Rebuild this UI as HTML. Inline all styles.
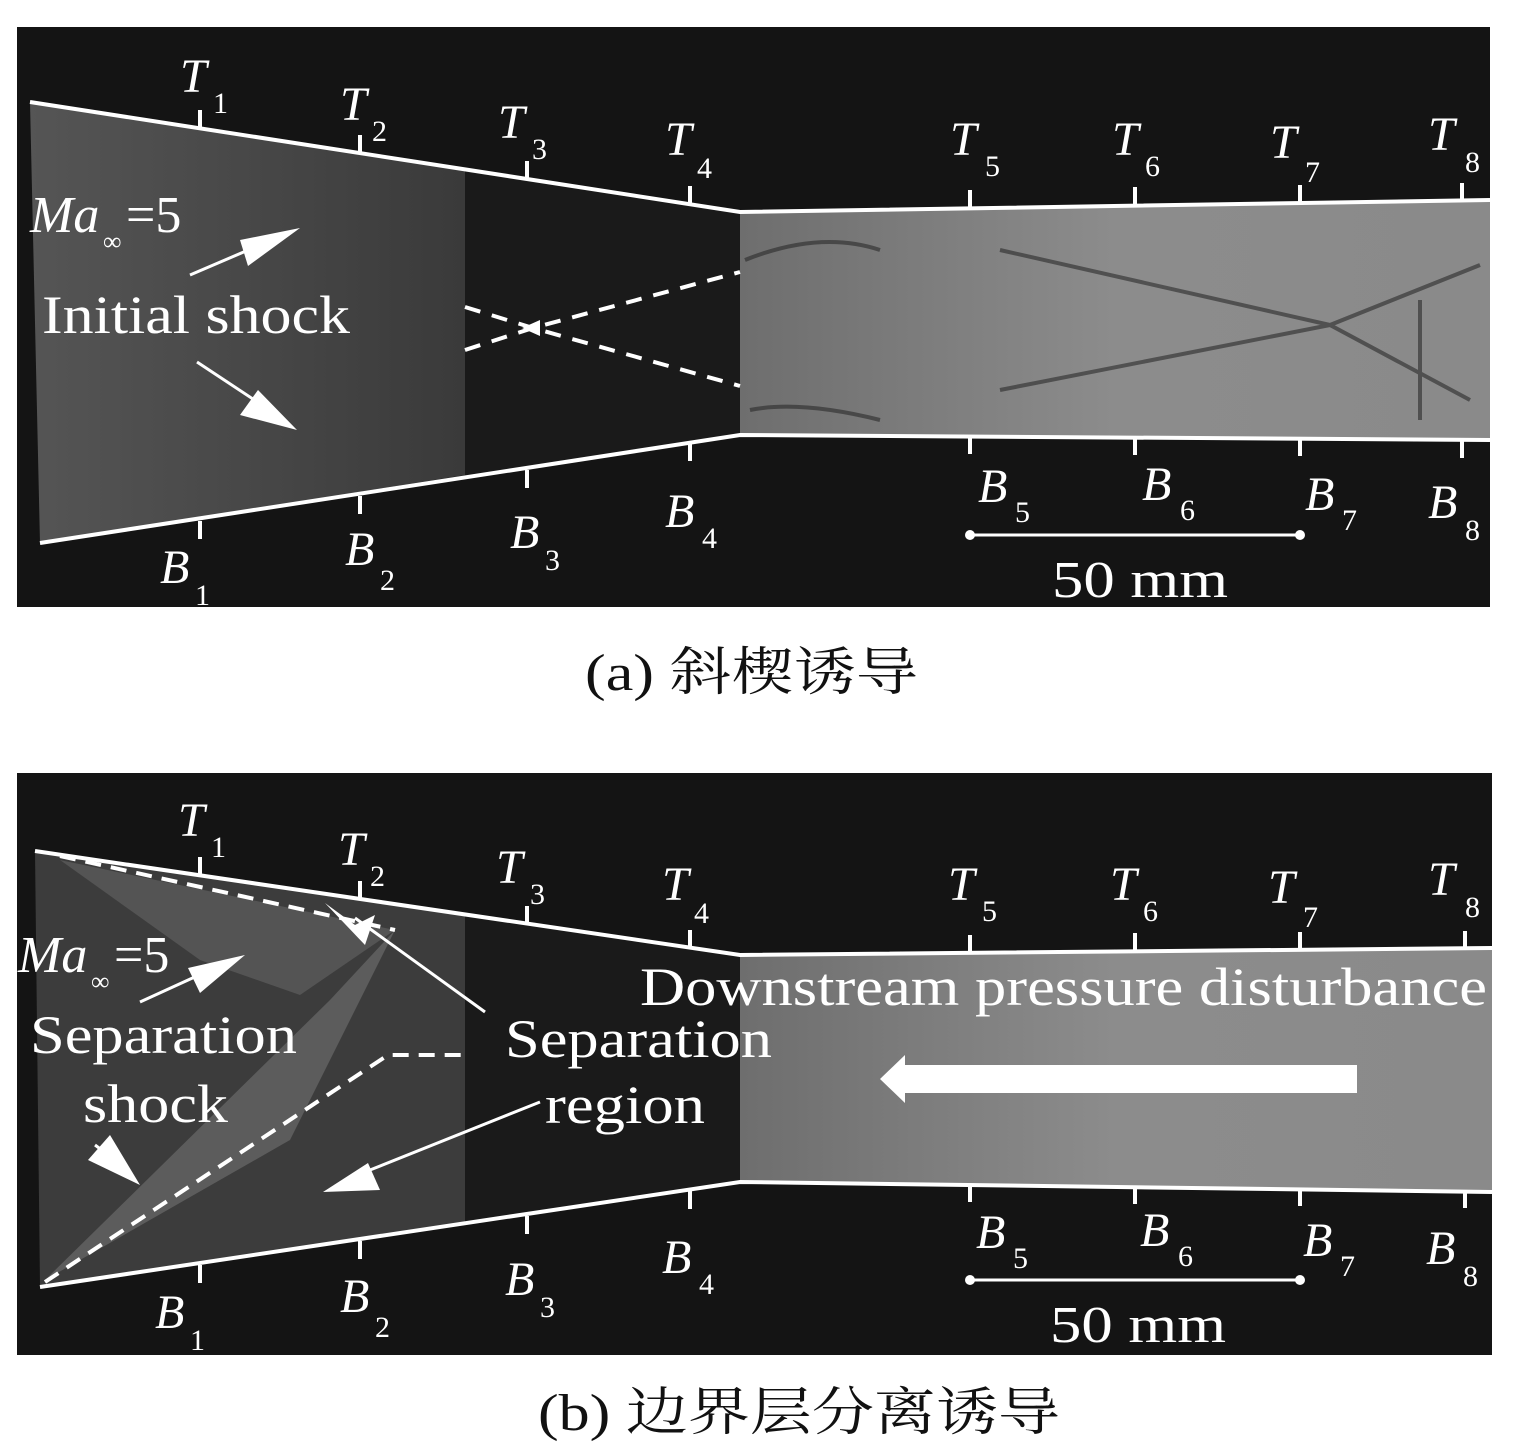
<!DOCTYPE html>
<html><head><meta charset="utf-8"><style>
html,body{margin:0;padding:0;background:#fff;}
svg{display:block}
.t{font-family:"Liberation Serif",serif;fill:#fff}
.i{font-style:italic}
</style></head><body>
<svg width="1534" height="1456" viewBox="0 0 1534 1456" xmlns="http://www.w3.org/2000/svg">
<defs>
<linearGradient id="ga" x1="0" y1="0" x2="1" y2="0"><stop offset="0" stop-color="#555"/><stop offset="1" stop-color="#3a3a3a"/></linearGradient>
<linearGradient id="gr" x1="0" y1="0" x2="1" y2="0"><stop offset="0" stop-color="#6e6e6e"/><stop offset="0.5" stop-color="#8c8c8c"/><stop offset="1" stop-color="#8a8a8a"/></linearGradient>
</defs>
<!-- Panel A -->
<rect x="17" y="27" width="1473" height="580" fill="#141414"/>
<polygon points="30,102 465,170 465,475 40,543" fill="url(#ga)"/>
<polygon points="465,170 740,212 740,435 465,475" fill="#1a1a1a"/>
<polygon points="740,212 1490,200 1490,440 740,435" fill="url(#gr)"/>
<g stroke="#2a2a2a" stroke-width="4" fill="none" opacity="0.6">
<path d="M745,260 Q820,230 880,250"/><path d="M1000,250 L1330,325 L1480,265"/><path d="M1000,390 L1330,325 L1470,400"/><path d="M750,410 Q800,400 880,420"/><path d="M1420,300 L1420,420"/>
</g>
<g stroke="#fff" stroke-width="4" fill="none">
<polyline points="30,102 740,212 1490,200"/>
<polyline points="40,543 740,435 1490,440"/>
<path d="M200,128 v-18 M360,153 v-18 M527,179 v-18 M690,204 v-18 M970,208 v-18 M1135,205 v-18 M1300,203 v-18 M1462,201 v-18"/>
<path d="M200,521 v18 M360,496 v18 M527,470 v18 M690,443 v18 M970,436 v18 M1135,437 v18 M1300,438 v18 M1462,440 v18"/>
<path d="M465,307 L533,328 L740,386 M465,350 L533,328 L740,272" stroke-dasharray="16,12"/>
<path d="M970,535 H1300" stroke-width="3"/>
<path d="M190,275 L260,245 M197,362 L262,405" stroke-width="3"/>
</g>
<polygon points="522,328 540,320 540,336" fill="#fff"/>
<circle cx="970" cy="535" r="5" fill="#fff"/><circle cx="1300" cy="535" r="5" fill="#fff"/>
<polygon points="300,228 248,266 240,240" fill="#fff"/>
<polygon points="297,430 240,415 258,390" fill="#fff"/>
<g class="t">
<text x="180" y="92" font-size="48" class="i">T</text><text x="213" y="113" font-size="30">1</text>
<text x="340" y="120" font-size="48" class="i">T</text><text x="372" y="141" font-size="30">2</text>
<text x="498" y="138" font-size="48" class="i">T</text><text x="532" y="159" font-size="30">3</text>
<text x="665" y="155" font-size="48" class="i">T</text><text x="697" y="178" font-size="30">4</text>
<text x="950" y="155" font-size="48" class="i">T</text><text x="985" y="176" font-size="30">5</text>
<text x="1112" y="155" font-size="48" class="i">T</text><text x="1145" y="176" font-size="30">6</text>
<text x="1270" y="158" font-size="48" class="i">T</text><text x="1305" y="182" font-size="30">7</text>
<text x="1428" y="150" font-size="48" class="i">T</text><text x="1465" y="172" font-size="30">8</text>
<text x="160" y="583" font-size="48" class="i">B</text><text x="195" y="605" font-size="30">1</text>
<text x="345" y="565" font-size="48" class="i">B</text><text x="380" y="590" font-size="30">2</text>
<text x="510" y="548" font-size="48" class="i">B</text><text x="545" y="570" font-size="30">3</text>
<text x="665" y="527" font-size="48" class="i">B</text><text x="702" y="548" font-size="30">4</text>
<text x="978" y="502" font-size="48" class="i">B</text><text x="1015" y="522" font-size="30">5</text>
<text x="1142" y="500" font-size="48" class="i">B</text><text x="1180" y="520" font-size="30">6</text>
<text x="1305" y="510" font-size="48" class="i">B</text><text x="1342" y="530" font-size="30">7</text>
<text x="1428" y="518" font-size="48" class="i">B</text><text x="1465" y="540" font-size="30">8</text>
<text x="1052" y="597" font-size="52" textLength="176" lengthAdjust="spacingAndGlyphs">50 mm</text>
<text x="30" y="232" font-size="52" class="i">Ma</text><text x="103" y="250" font-size="26">∞</text><text x="126" y="232" font-size="52">=5</text>
<text x="42" y="333" font-size="54" textLength="308" lengthAdjust="spacingAndGlyphs">Initial shock</text>
</g>
<!-- Panel B -->
<rect x="17" y="773" width="1475" height="582" fill="#141414"/>
<polygon points="35,851 465,915 465,1222 40,1287" fill="#3c3c3c"/>
<polygon points="60,860 395,930 300,995 200,960" fill="#5a5a5a" opacity="0.8"/>
<polygon points="45,1280 330,1000 395,930 290,1140" fill="#6a6a6a" opacity="0.7"/>
<polygon points="465,915 740,955 740,1182 465,1222" fill="#1a1a1a"/>
<polygon points="740,955 1492,948 1492,1192 740,1182" fill="url(#gr)"/>
<g stroke="#fff" stroke-width="4" fill="none">
<polyline points="35,851 740,955 1492,948"/>
<polyline points="40,1287 740,1182 1492,1192"/>
<path d="M200,875 v-18 M360,899 v-18 M527,924 v-18 M690,948 v-18 M970,953 v-18 M1135,951 v-18 M1300,950 v-18 M1465,949 v-18"/>
<path d="M200,1265 v18 M360,1241 v18 M527,1216 v18 M690,1191 v18 M970,1184 v18 M1135,1186 v18 M1300,1188 v18 M1465,1190 v18"/>
<path d="M60,856 L395,930 M45,1282 L388,1055 L465,1055" stroke-dasharray="16,10"/>
<path d="M970,1280 H1300" stroke-width="3"/>
<path d="M140,1002 L210,970 M95,1145 L115,1160 M540,1102 L370,1170 M485,1012 L355,918" stroke-width="3"/>
</g>
<circle cx="970" cy="1280" r="5" fill="#fff"/><circle cx="1300" cy="1280" r="5" fill="#fff"/>
<polygon points="245,955 200,993 188,968" fill="#fff"/>
<polygon points="140,1185 88,1160 110,1135" fill="#fff"/>
<polygon points="323,1192 368,1163 380,1190" fill="#fff"/>
<polygon points="365,945 325,903 355,925 375,915" fill="#fff"/>
<polygon points="905,1065 1357,1065 1357,1093 905,1093 905,1103 880,1079 905,1055" fill="#fff"/>
<g class="t">
<text x="178" y="836" font-size="48" class="i">T</text><text x="211" y="857" font-size="30">1</text>
<text x="338" y="865" font-size="48" class="i">T</text><text x="370" y="886" font-size="30">2</text>
<text x="496" y="883" font-size="48" class="i">T</text><text x="530" y="904" font-size="30">3</text>
<text x="662" y="900" font-size="48" class="i">T</text><text x="694" y="923" font-size="30">4</text>
<text x="948" y="900" font-size="48" class="i">T</text><text x="982" y="921" font-size="30">5</text>
<text x="1110" y="900" font-size="48" class="i">T</text><text x="1143" y="921" font-size="30">6</text>
<text x="1268" y="903" font-size="48" class="i">T</text><text x="1303" y="927" font-size="30">7</text>
<text x="1428" y="895" font-size="48" class="i">T</text><text x="1465" y="917" font-size="30">8</text>
<text x="155" y="1328" font-size="48" class="i">B</text><text x="190" y="1350" font-size="30">1</text>
<text x="340" y="1312" font-size="48" class="i">B</text><text x="375" y="1337" font-size="30">2</text>
<text x="505" y="1295" font-size="48" class="i">B</text><text x="540" y="1317" font-size="30">3</text>
<text x="662" y="1273" font-size="48" class="i">B</text><text x="699" y="1294" font-size="30">4</text>
<text x="976" y="1248" font-size="48" class="i">B</text><text x="1013" y="1268" font-size="30">5</text>
<text x="1140" y="1246" font-size="48" class="i">B</text><text x="1178" y="1266" font-size="30">6</text>
<text x="1303" y="1256" font-size="48" class="i">B</text><text x="1340" y="1276" font-size="30">7</text>
<text x="1426" y="1264" font-size="48" class="i">B</text><text x="1463" y="1286" font-size="30">8</text>
<text x="1050" y="1342" font-size="52" textLength="176" lengthAdjust="spacingAndGlyphs">50 mm</text>
<text x="18" y="972" font-size="52" class="i">Ma</text><text x="91" y="990" font-size="26">∞</text><text x="114" y="972" font-size="52">=5</text>
<text x="30" y="1053" font-size="54" textLength="267" lengthAdjust="spacingAndGlyphs">Separation</text>
<text x="83" y="1122" font-size="54" textLength="145" lengthAdjust="spacingAndGlyphs">shock</text>
<text x="505" y="1057" font-size="54" textLength="267" lengthAdjust="spacingAndGlyphs">Separation</text>
<text x="545" y="1123" font-size="54" textLength="160" lengthAdjust="spacingAndGlyphs">region</text>
<text x="640" y="1005" font-size="54" textLength="847" lengthAdjust="spacingAndGlyphs">Downstream pressure disturbance</text>
</g>
<!-- captions -->
<text x="585" y="690" font-size="52" textLength="333" lengthAdjust="spacingAndGlyphs" font-family="'Liberation Serif','Noto Serif CJK SC',serif" fill="#111">(a) 斜楔诱导</text>
<text x="538" y="1430" font-size="52" textLength="522" lengthAdjust="spacingAndGlyphs" font-family="'Liberation Serif','Noto Serif CJK SC',serif" fill="#111">(b) 边界层分离诱导</text>
</svg>
</body></html>
